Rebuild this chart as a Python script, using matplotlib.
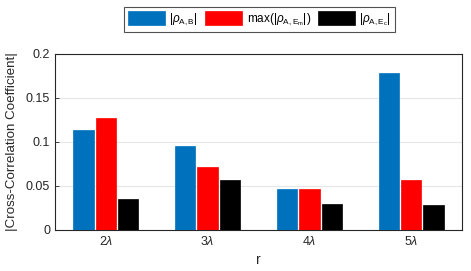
import numpy as np
import matplotlib.pyplot as plt

plt.rcParams['font.family'] = ['Liberation Sans', 'DejaVu Sans']
plt.rcParams['mathtext.fontset'] = 'custom'
plt.rcParams['mathtext.rm'] = 'Liberation Sans'
plt.rcParams['mathtext.it'] = 'Liberation Sans:italic'

# data
r_labels = ['2$\\lambda$', '3$\\lambda$', '4$\\lambda$', '5$\\lambda$']
rho_ab = [0.1136, 0.0951, 0.0462, 0.1784]
rho_aem = [0.127, 0.0716, 0.0469, 0.0572]
rho_aec = [0.0352, 0.0568, 0.0295, 0.0288]

series = [rho_ab, rho_aem, rho_aec]
names = ['$|\\rho_{\\mathrm{A,B}}|$', 'max($|\\rho_{\\mathrm{A,E_m}}|$)', '$|\\rho_{\\mathrm{A,E_c}}|$']
colors = ['#0072BD', '#FF0000', '#000000']

fig = plt.figure(figsize=(4.71, 2.71), dpi=100)
ax = fig.add_axes([55 / 471, 1 - 230 / 271, 407 / 471, 176 / 271])

x = np.arange(1, len(r_labels) + 1)
w = 0.2
offsets = [-0.22, 0.0, 0.22]
for vals, off, c, lab in zip(series, offsets, colors, names):
    ax.bar(x + off, vals, width=w, color=c, edgecolor=c, linewidth=0.5, label=lab, zorder=3)

ax.set_xlim(0.5, 4.5)
ax.set_ylim(0, 0.2)
ax.set_xticks(x)
ax.set_xticklabels(r_labels)
ax.set_yticks([0, 0.05, 0.1, 0.15, 0.2])
ax.set_yticklabels(['0', '0.05', '0.1', '0.15', '0.2'])
ax.grid(axis='y', color='#e6e6e6', linewidth=0.8, zorder=0)
ax.tick_params(direction='in', length=3, labelsize=9, colors='#262626', width=0.6)
for s in ax.spines.values():
    s.set_color('#262626')
    s.set_linewidth(0.8)

ax.set_xlabel('r', fontsize=10, color='#262626', labelpad=4)
ax.set_ylabel('|Cross-Correlation Coefficient|', fontsize=9.6, color='#262626', labelpad=6)

leg = fig.legend(loc='upper left', bbox_to_anchor=(124 / 471, 1 - 7 / 271), ncol=3,
                 fontsize=8.5, frameon=True, fancybox=False, edgecolor='#262626',
                 handlelength=3.1, handleheight=1.4, handletextpad=0.4,
                 columnspacing=0.6, borderpad=0.35, borderaxespad=0)
leg.get_frame().set_linewidth(0.8)

fig.savefig('out.png', dpi=100)
